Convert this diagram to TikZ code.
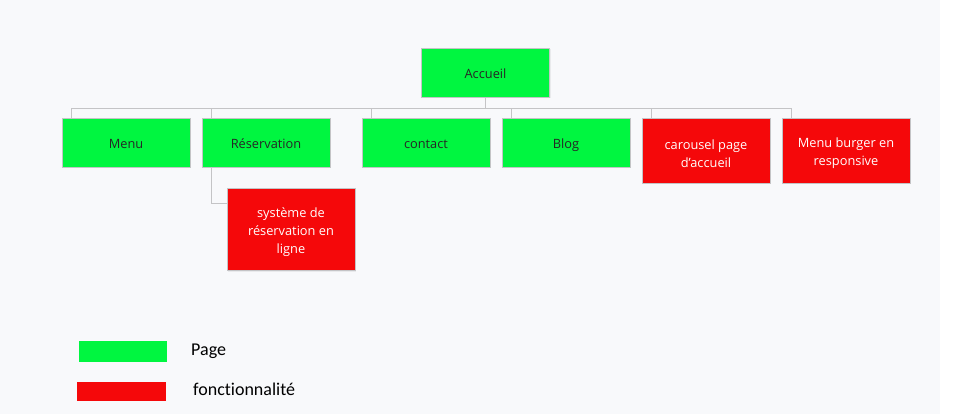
\documentclass[tikz,border=0pt]{standalone}
\usepackage{fontspec}
\setmainfont{Open Sans}
\newfontfamily\legendfont[Ligatures=CommonOff]{Carlito}
\usetikzlibrary{shadows}
\definecolor{pagegreen}{RGB}{0,246,64}
\definecolor{fonctred}{RGB}{245,8,10}
\definecolor{fondgris}{RGB}{248,249,251}
\definecolor{traitgris}{RGB}{196,196,198}
\newcommand{\hautligne}{\rule{0pt}{15.5pt}}
\begin{document}
\begin{tikzpicture}[x=1pt,y=-1pt]
\tikzset{boite/.style={draw=traitgris, line width=0.8pt, minimum width=128pt, minimum height=49pt, align=center, font=\fontsize{12.8}{18}\selectfont, drop shadow={shadow xshift=1pt, shadow yshift=-1.5pt, opacity=0.12}},
page/.style={boite, fill=pagegreen, text=black!85, text height=12pt, text depth=0pt},
fonct/.style={boite, fill=fonctred, text=white},
lien/.style={draw=traitgris, line width=0.8pt},
legende/.style={anchor=west, inner sep=0pt, font=\legendfont\fontsize{18}{20}\selectfont}}
\fill[white] (0,0) rectangle (954,414);
\fill[fondgris] (0,0) rectangle (940,414);
\useasboundingbox (0,0) rectangle (954,414);
\node[page] (accueil) at (485.5,72.5) {Accueil};
\node[page] (menu) at (126,142.5) {Menu};
\node[page] (resa) at (266,142.5) {Réservation};
\node[page] (contact) at (426,142.5) {contact};
\node[page] (blog) at (566,142.5) {Blog};
\node[fonct, minimum height=65pt] (carousel) at (706,150.5) {\hautligne carousel page\\d'accueil};
\node[fonct, minimum height=65pt] (burger) at (846,150.5) {\hautligne Menu burger en\\responsive};
\node[fonct, minimum height=82pt] (systeme) at (291,229.7) {\hautligne système de\\réservation en\\ligne};
\draw[lien] (accueil.south) -- ++(0,11) -| ([xshift=10pt]menu.north west);
\draw[lien] (accueil.south) -- ++(0,11) -| ([xshift=10pt]resa.north west);
\draw[lien] (accueil.south) -- ++(0,11) -| ([xshift=10pt]contact.north west);
\draw[lien] (accueil.south) -- ++(0,11) -| ([xshift=10pt]blog.north west);
\draw[lien] (accueil.south) -- ++(0,11) -| ([xshift=10pt]carousel.north west);
\draw[lien] (accueil.south) -- ++(0,11) -| ([xshift=10pt]burger.north west);
\draw[lien] ([xshift=10pt]resa.south west) |- ([yshift=-15pt]systeme.north west);
% legende
\node[fill=pagegreen, minimum width=88pt, minimum height=20pt, inner sep=0pt] (legpage) at (123,351.5) {};
\node[fill=fonctred, minimum width=89pt, minimum height=19pt, inner sep=0pt] (legfonct) at (121.5,391.5) {};
\node[legende] (txtpage) at (191,351.5) {Page};
\node[legende] (txtfonct) at (193,389.5) {fonctionnalité};
\end{tikzpicture}
\end{document}
